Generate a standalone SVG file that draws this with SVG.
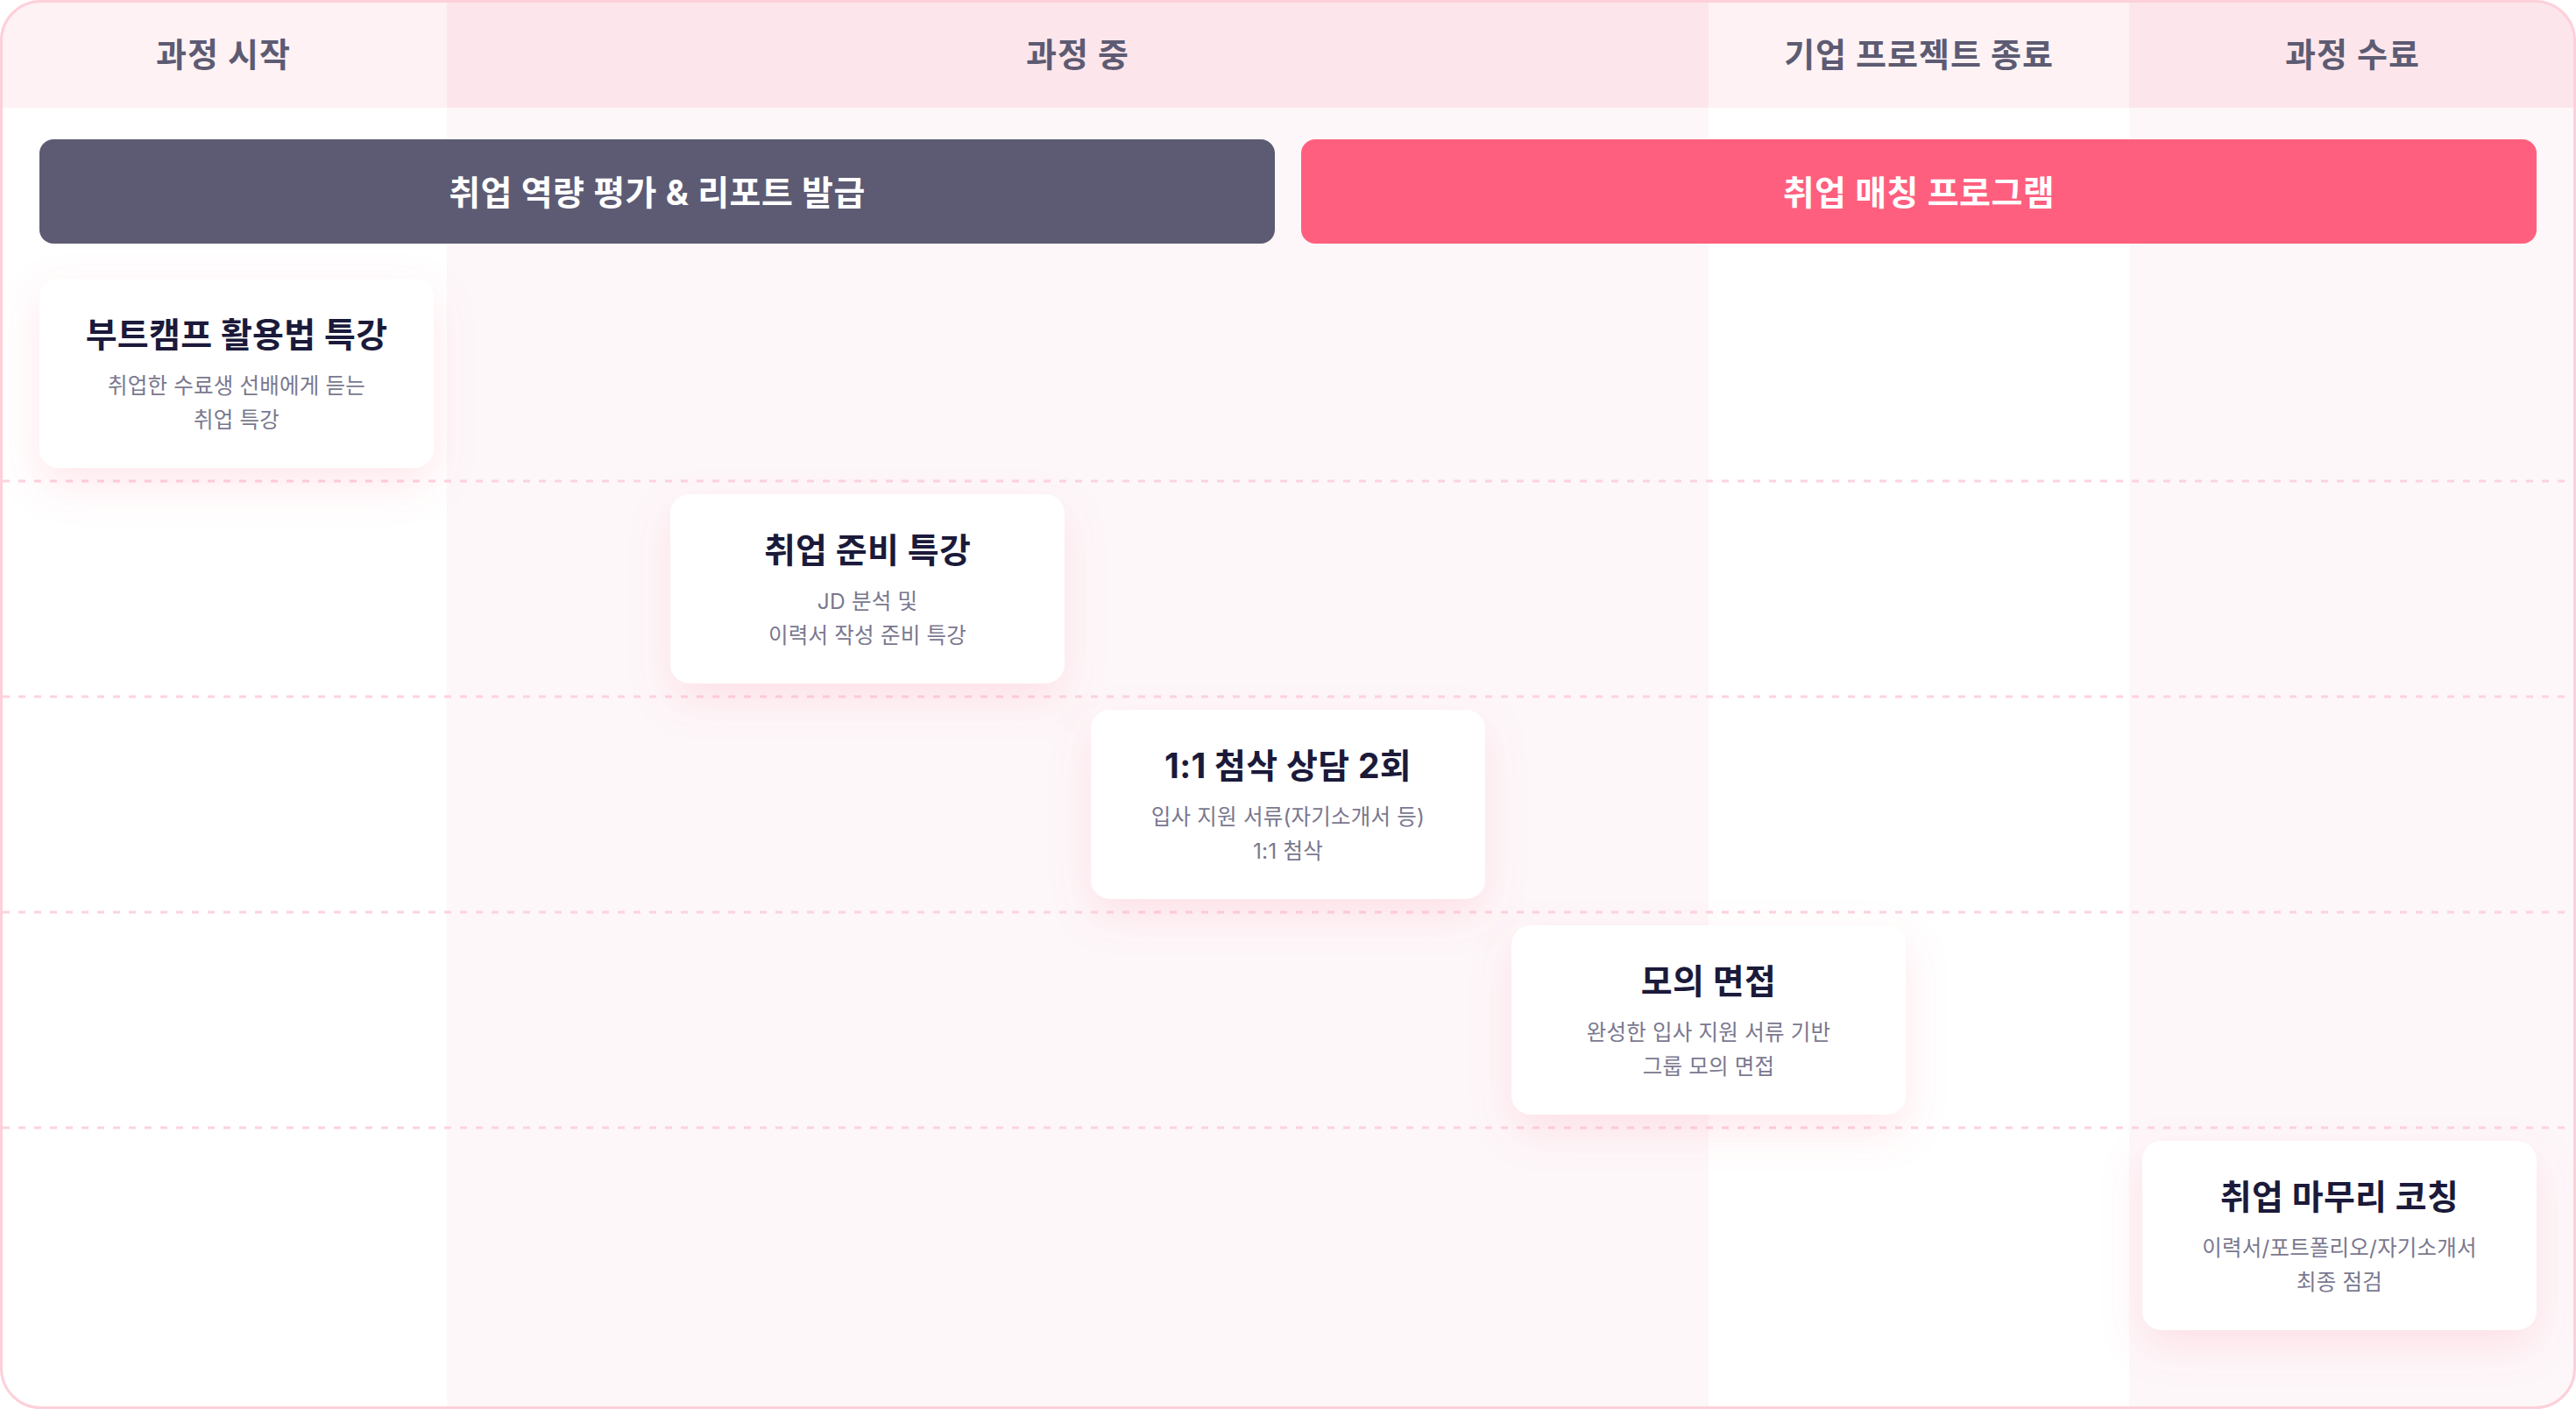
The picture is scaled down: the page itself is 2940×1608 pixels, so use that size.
<svg xmlns="http://www.w3.org/2000/svg" width="2940" height="1608" viewBox="0 0 2940 1608">
  <defs>
    <clipPath id="frame">
      <rect x="1.5" y="1.5" width="2937" height="1605" rx="45" ry="45"/>
    </clipPath>
    <filter id="cardShadow" x="-30%" y="-40%" width="160%" height="190%">
      <feDropShadow dx="0" dy="18" stdDeviation="24" flood-color="#ff6a88" flood-opacity="0.16"/>
    </filter>
    <style>
      text { font-family: Inter, "Noto Sans CJK KR", sans-serif; text-anchor: middle; }
      .hdr { font-size: 38px; font-weight: 700; fill: #5d5b73; letter-spacing: 1px; }
      .bar { font-size: 39px; font-weight: 700; fill: #ffffff; letter-spacing: 0.5px; }
      .title { font-size: 39px; font-weight: 700; fill: #1b1a3a; letter-spacing: 0.3px; }
      .sub { font-size: 24.5px; font-weight: 400; fill: #7a788f; letter-spacing: 0.2px; }
      .card { fill: #ffffff; filter: url(#cardShadow); }
      .grid { stroke: #fdd3dd; stroke-width: 3; stroke-dasharray: 8 10; fill: none; }
    </style>
  </defs>

  <g id="background" clip-path="url(#frame)">
    <rect x="0" y="0" width="2940" height="1608" fill="#ffffff"/>
    <rect x="0" y="0" width="510" height="123" fill="#fef2f4"/>
    <rect x="510" y="0" width="1440" height="123" fill="#fde6eb"/>
    <rect x="1950" y="0" width="480" height="123" fill="#fef2f4"/>
    <rect x="2430" y="0" width="510" height="123" fill="#fde6eb"/>
    <rect x="510" y="123" width="1440" height="1485" fill="#fdf7f9"/>
    <rect x="2430" y="123" width="510" height="1485" fill="#fdf7f9"/>
  </g>

  <g id="grid">
    <line class="grid" x1="3" y1="549" x2="2937" y2="549"/>
    <line class="grid" x1="3" y1="795" x2="2937" y2="795"/>
    <line class="grid" x1="3" y1="1041" x2="2937" y2="1041"/>
    <line class="grid" x1="3" y1="1287" x2="2937" y2="1287"/>
  </g>

  <rect id="frame-border" x="1.5" y="1.5" width="2937" height="1605" rx="45" ry="45" fill="none" stroke="#fdd0da" stroke-width="3"/>

  <g id="header-start"><text class="hdr" x="255" y="76">과정 시작</text></g>
  <g id="header-during"><text class="hdr" x="1230" y="76">과정 중</text></g>
  <g id="header-project-end"><text class="hdr" x="2190" y="76">기업 프로젝트 종료</text></g>
  <g id="header-complete"><text class="hdr" x="2685" y="76">과정 수료</text></g>

  <g id="bar-assessment">
    <rect x="45" y="159" width="1410" height="119" rx="16" fill="#5d5b73"/>
    <text class="bar" x="750" y="234">취업 역량 평가 &amp; 리포트 발급</text>
  </g>
  <g id="bar-matching">
    <rect x="1485" y="159" width="1410" height="119" rx="16" fill="#ff5f7e"/>
    <text class="bar" x="2190" y="234">취업 매칭 프로그램</text>
  </g>

  <g id="card-bootcamp">
    <rect class="card" x="45" y="318" width="450" height="216" rx="22"/>
    <text class="title" x="270" y="396">부트캠프 활용법 특강</text>
    <text class="sub" x="270" y="449">취업한 수료생 선배에게 듣는</text>
    <text class="sub" x="270" y="488">취업 특강</text>
  </g>
  <g id="card-prep">
    <rect class="card" x="765" y="564" width="450" height="216" rx="22"/>
    <text class="title" x="990" y="642">취업 준비 특강</text>
    <text class="sub" x="990" y="695">JD 분석 및</text>
    <text class="sub" x="990" y="734">이력서 작성 준비 특강</text>
  </g>
  <g id="card-review">
    <rect class="card" x="1245" y="810" width="450" height="216" rx="22"/>
    <text class="title" x="1470" y="888">1:1 첨삭 상담 2회</text>
    <text class="sub" x="1470" y="941">입사 지원 서류(자기소개서 등)</text>
    <text class="sub" x="1470" y="980">1:1 첨삭</text>
  </g>
  <g id="card-interview">
    <rect class="card" x="1725" y="1056" width="450" height="216" rx="22"/>
    <text class="title" x="1950" y="1134">모의 면접</text>
    <text class="sub" x="1950" y="1187">완성한 입사 지원 서류 기반</text>
    <text class="sub" x="1950" y="1226">그룹 모의 면접</text>
  </g>
  <g id="card-coaching">
    <rect class="card" x="2445" y="1302" width="450" height="216" rx="22"/>
    <text class="title" x="2670" y="1380">취업 마무리 코칭</text>
    <text class="sub" x="2670" y="1433">이력서/포트폴리오/자기소개서</text>
    <text class="sub" x="2670" y="1472">최종 점검</text>
  </g>
</svg>
